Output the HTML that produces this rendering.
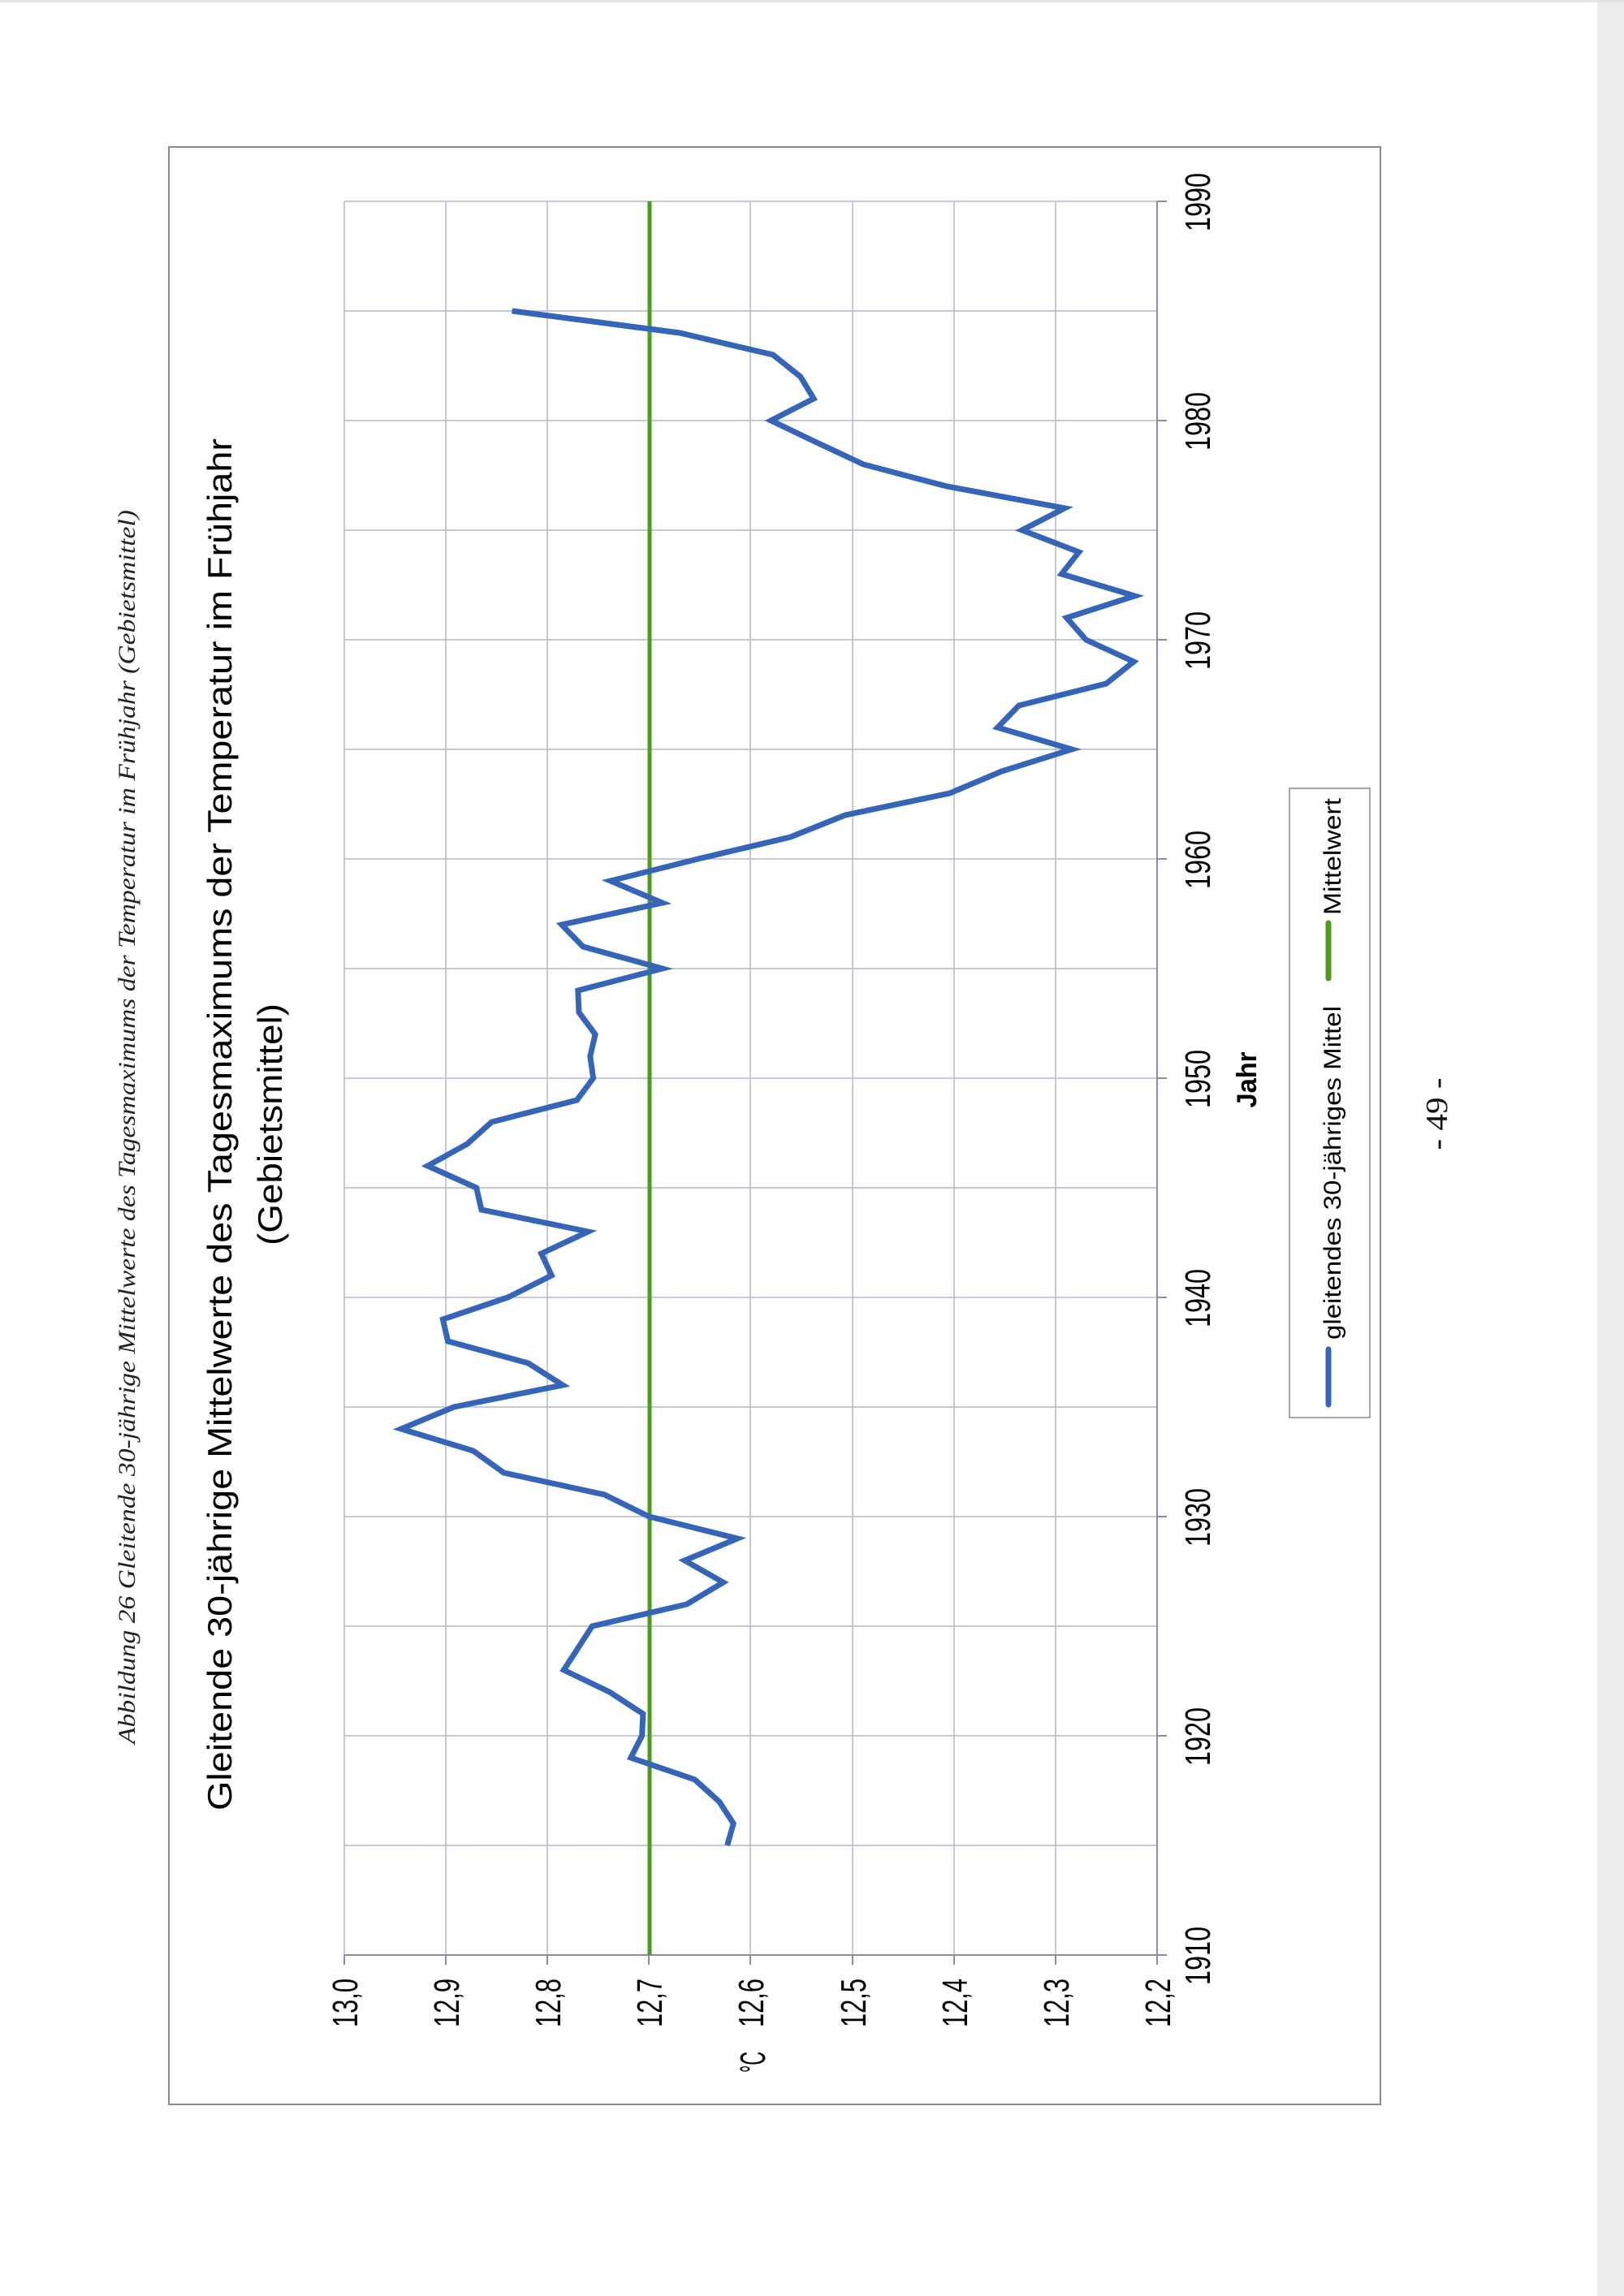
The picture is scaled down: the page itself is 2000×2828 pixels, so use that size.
<!DOCTYPE html>
<html><head><meta charset="utf-8"><style>
html,body{margin:0;padding:0;background:#fff;}
svg{display:block;}
</style></head><body>
<svg width="2000" height="2828" viewBox="0 0 2000 2828" xmlns="http://www.w3.org/2000/svg">
<rect x="0" y="0" width="2000" height="2828" fill="#fff"/>
<rect x="1967" y="0" width="33" height="2828" fill="#ececec"/>
<rect x="0" y="0" width="2000" height="3" fill="#e4e4e4"/>

<!-- caption -->
<text transform="translate(166,1388) rotate(-90)" text-anchor="middle" font-family="Liberation Serif, serif" font-style="italic" font-size="30" fill="#222" textLength="1520" lengthAdjust="spacingAndGlyphs">Abbildung 26 Gleitende 30-jährige Mittelwerte des Tagesmaximums der Temperatur im Frühjahr (Gebietsmittel)</text>

<!-- chart frame -->
<rect x="208" y="181" width="1492" height="2411" fill="#fff" stroke="#8a8a8a" stroke-width="2"/>

<!-- title -->
<text transform="translate(285,1385) rotate(-90)" text-anchor="middle" font-family="Liberation Sans, sans-serif" font-size="42" fill="#000" textLength="1690" lengthAdjust="spacingAndGlyphs">Gleitende 30-jährige Mittelwerte des Tagesmaximums der Temperatur im Frühjahr</text>
<text transform="translate(347,1385) rotate(-90)" text-anchor="middle" font-family="Liberation Sans, sans-serif" font-size="42" fill="#000" textLength="298" lengthAdjust="spacingAndGlyphs">(Gebietsmittel)</text>

<!-- gridlines -->
<g stroke="#b4b8cc" stroke-width="1.5">
<line x1="424" y1="248" x2="424" y2="2408"/>
<line x1="549" y1="248" x2="549" y2="2408"/>
<line x1="674" y1="248" x2="674" y2="2408"/>
<line x1="799" y1="248" x2="799" y2="2408"/>
<line x1="924" y1="248" x2="924" y2="2408"/>
<line x1="1050" y1="248" x2="1050" y2="2408"/>
<line x1="1175" y1="248" x2="1175" y2="2408"/>
<line x1="1300" y1="248" x2="1300" y2="2408"/>
<line x1="424" y1="248" x2="1425" y2="248"/>
<line x1="424" y1="383" x2="1425" y2="383"/>
<line x1="424" y1="518" x2="1425" y2="518"/>
<line x1="424" y1="653" x2="1425" y2="653"/>
<line x1="424" y1="788" x2="1425" y2="788"/>
<line x1="424" y1="923" x2="1425" y2="923"/>
<line x1="424" y1="1058" x2="1425" y2="1058"/>
<line x1="424" y1="1193" x2="1425" y2="1193"/>
<line x1="424" y1="1328" x2="1425" y2="1328"/>
<line x1="424" y1="1463" x2="1425" y2="1463"/>
<line x1="424" y1="1598" x2="1425" y2="1598"/>
<line x1="424" y1="1733" x2="1425" y2="1733"/>
<line x1="424" y1="1868" x2="1425" y2="1868"/>
<line x1="424" y1="2003" x2="1425" y2="2003"/>
<line x1="424" y1="2138" x2="1425" y2="2138"/>
<line x1="424" y1="2273" x2="1425" y2="2273"/>
</g>
<!-- axes -->
<g stroke="#8c8c9c" stroke-width="2">
<line x1="1425" y1="248" x2="1425" y2="2408"/>
<line x1="424" y1="2408" x2="1425" y2="2408"/>
<line x1="424" y1="2408" x2="424" y2="2420"/><line x1="549" y1="2408" x2="549" y2="2420"/>
<line x1="674" y1="2408" x2="674" y2="2420"/><line x1="799" y1="2408" x2="799" y2="2420"/>
<line x1="924" y1="2408" x2="924" y2="2420"/><line x1="1050" y1="2408" x2="1050" y2="2420"/>
<line x1="1175" y1="2408" x2="1175" y2="2420"/><line x1="1300" y1="2408" x2="1300" y2="2420"/>
<line x1="1425" y1="2408" x2="1425" y2="2420"/>
<line x1="1425" y1="248" x2="1437" y2="248"/><line x1="1425" y1="518" x2="1437" y2="518"/>
<line x1="1425" y1="788" x2="1437" y2="788"/><line x1="1425" y1="1058" x2="1437" y2="1058"/>
<line x1="1425" y1="1328" x2="1437" y2="1328"/><line x1="1425" y1="1598" x2="1437" y2="1598"/>
<line x1="1425" y1="1868" x2="1437" y2="1868"/><line x1="1425" y1="2138" x2="1437" y2="2138"/>
<line x1="1425" y1="2408" x2="1437" y2="2408"/>
</g>

<!-- value tick labels -->
<g font-family="Liberation Sans, sans-serif" font-size="44" fill="#000" text-anchor="middle">
<text transform="translate(440,2467) rotate(-90)" textLength="60" lengthAdjust="spacingAndGlyphs">13,0</text>
<text transform="translate(565,2467) rotate(-90)" textLength="60" lengthAdjust="spacingAndGlyphs">12,9</text>
<text transform="translate(690,2467) rotate(-90)" textLength="60" lengthAdjust="spacingAndGlyphs">12,8</text>
<text transform="translate(815,2467) rotate(-90)" textLength="60" lengthAdjust="spacingAndGlyphs">12,7</text>
<text transform="translate(940,2467) rotate(-90)" textLength="60" lengthAdjust="spacingAndGlyphs">12,6</text>
<text transform="translate(1066,2467) rotate(-90)" textLength="60" lengthAdjust="spacingAndGlyphs">12,5</text>
<text transform="translate(1191,2467) rotate(-90)" textLength="60" lengthAdjust="spacingAndGlyphs">12,4</text>
<text transform="translate(1316,2467) rotate(-90)" textLength="60" lengthAdjust="spacingAndGlyphs">12,3</text>
<text transform="translate(1441,2467) rotate(-90)" textLength="60" lengthAdjust="spacingAndGlyphs">12,2</text>
<text transform="translate(942,2540) rotate(-90)" textLength="26" lengthAdjust="spacingAndGlyphs">°C</text>
</g>

<!-- year labels -->
<g font-family="Liberation Sans, sans-serif" font-size="44" fill="#000" text-anchor="middle">
<text transform="translate(1490,2409) rotate(-90)" textLength="72" lengthAdjust="spacingAndGlyphs">1910</text>
<text transform="translate(1490,2139) rotate(-90)" textLength="72" lengthAdjust="spacingAndGlyphs">1920</text>
<text transform="translate(1490,1869) rotate(-90)" textLength="72" lengthAdjust="spacingAndGlyphs">1930</text>
<text transform="translate(1490,1599) rotate(-90)" textLength="72" lengthAdjust="spacingAndGlyphs">1940</text>
<text transform="translate(1490,1329) rotate(-90)" textLength="72" lengthAdjust="spacingAndGlyphs">1950</text>
<text transform="translate(1490,1059) rotate(-90)" textLength="72" lengthAdjust="spacingAndGlyphs">1960</text>
<text transform="translate(1490,789) rotate(-90)" textLength="72" lengthAdjust="spacingAndGlyphs">1970</text>
<text transform="translate(1490,519) rotate(-90)" textLength="72" lengthAdjust="spacingAndGlyphs">1980</text>
<text transform="translate(1490,249) rotate(-90)" textLength="72" lengthAdjust="spacingAndGlyphs">1990</text>
</g>
<text transform="translate(1547,1330) rotate(-90)" text-anchor="middle" font-family="Liberation Sans, sans-serif" font-weight="bold" font-size="34" fill="#000" textLength="69" lengthAdjust="spacingAndGlyphs">Jahr</text>

<!-- mean line -->
<line x1="800" y1="248" x2="800" y2="2408" stroke="#4e9a1c" stroke-width="5"/>

<!-- series -->
<polyline fill="none" stroke="#3565b8" stroke-width="7" stroke-linejoin="miter" stroke-linecap="butt" points="
895.7,2273 903.2,2246 885.7,2219 855.7,2192 776.9,2165 790.6,2138 791.9,2111 750.6,2084 694.3,2057 711.8,2030 729.3,2003
845.7,1976 890.7,1949 843.2,1922 908.2,1895 799.4,1868 744.3,1841 620.4,1814 582.9,1787 494.1,1760 559.1,1733
693.0,1706 650.5,1679 551.6,1652 545.4,1625 625.5,1598 679.3,1571 666.7,1544 724.3,1517 592.9,1490 586.7,1463
526.6,1436 575.4,1409 605.4,1382 710.5,1355 730.6,1328 726.8,1301 733.1,1274 713.0,1247 711.8,1220 815.6,1193
718.0,1166 691.8,1139 815.6,1112 751.8,1085 859.4,1058 973.3,1031 1040.9,1004 1169.7,977 1233.6,950 1319.9,923
1228.6,896 1254.8,869 1362.4,842 1396.2,815 1337.4,788 1313.6,761 1397.5,734 1307.4,707 1328.7,680 1258.6,653
1311.1,626 1166.0,599 1063.4,572 1005.8,545 949.5,518 1002.1,491 985.8,464 952.0,437 836.9,410 630.5,383"/>

<!-- legend -->
<rect x="1588" y="971" width="99" height="775" fill="#fff" stroke="#8a8a8a" stroke-width="1.5"/>
<line x1="1636" y1="1662" x2="1636" y2="1730" stroke="#3565b8" stroke-width="7" stroke-linecap="round"/>
<line x1="1636" y1="1137" x2="1636" y2="1205" stroke="#4e9a1c" stroke-width="7" stroke-linecap="round"/>
<text transform="translate(1651,1650) rotate(-90)" font-family="Liberation Sans, sans-serif" font-size="30" fill="#000" textLength="411" lengthAdjust="spacingAndGlyphs">gleitendes 30-jähriges Mittel</text>
<text transform="translate(1651,1127) rotate(-90)" font-family="Liberation Sans, sans-serif" font-size="30" fill="#000" textLength="144" lengthAdjust="spacingAndGlyphs">Mittelwert</text>

<!-- page number -->
<text transform="translate(1782,1372) rotate(-90)" text-anchor="middle" font-family="Liberation Serif, serif" font-size="38" fill="#111" textLength="89" lengthAdjust="spacingAndGlyphs">- 49 -</text>
</svg>
</body></html>
